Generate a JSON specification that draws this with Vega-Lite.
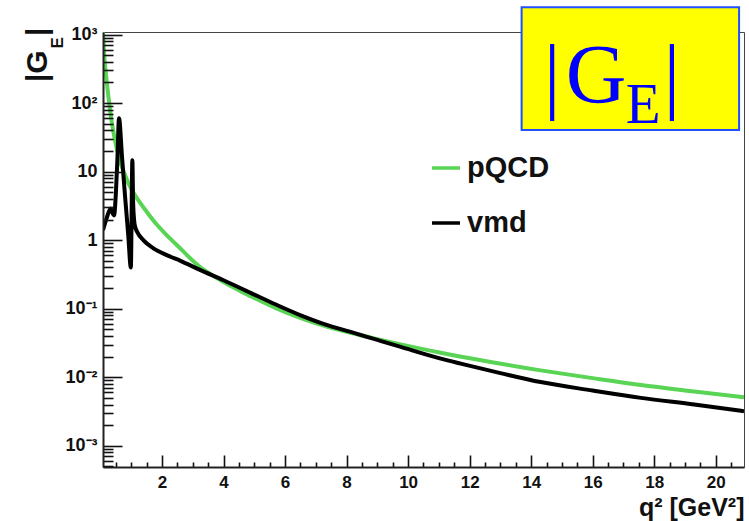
{
  "$schema": "https://vega.github.io/schema/vega-lite/v6.json",
  "width": 641,
  "height": 435,
  "autosize": {"type": "none"},
  "padding": {"left": 103, "top": 32, "right": 5, "bottom": 54},
  "background": "white",
  "config": {"view": {"stroke": "#444", "strokeWidth": 1}, "axis": {"grid": false, "ticks": true}},
  "resolve": {"axis": {"x": "independent", "y": "independent"}},
  "layer": [
    {
      "data": {"values": [
        {"series": "pQCD", "q2": 0.08, "G": 1080},
        {"series": "pQCD", "q2": 0.10, "G": 700},
        {"series": "pQCD", "q2": 0.13, "G": 430},
        {"series": "pQCD", "q2": 0.17, "G": 280},
        {"series": "pQCD", "q2": 0.22, "G": 170},
        {"series": "pQCD", "q2": 0.28, "G": 100},
        {"series": "pQCD", "q2": 0.35, "G": 58},
        {"series": "pQCD", "q2": 0.45, "G": 32},
        {"series": "pQCD", "q2": 0.6, "G": 16},
        {"series": "pQCD", "q2": 0.8, "G": 8.8},
        {"series": "pQCD", "q2": 1.0, "G": 5.6},
        {"series": "pQCD", "q2": 1.2, "G": 4.0},
        {"series": "pQCD", "q2": 1.5, "G": 2.6},
        {"series": "pQCD", "q2": 1.8, "G": 1.75},
        {"series": "pQCD", "q2": 2.1, "G": 1.25},
        {"series": "pQCD", "q2": 2.4, "G": 0.92},
        {"series": "pQCD", "q2": 2.7, "G": 0.68},
        {"series": "pQCD", "q2": 3.0, "G": 0.5},
        {"series": "pQCD", "q2": 3.25, "G": 0.4},
        {"series": "pQCD", "q2": 3.6, "G": 0.315},
        {"series": "pQCD", "q2": 4.0, "G": 0.245},
        {"series": "pQCD", "q2": 4.4, "G": 0.195},
        {"series": "pQCD", "q2": 4.88, "G": 0.152},
        {"series": "pQCD", "q2": 5.7, "G": 0.102},
        {"series": "pQCD", "q2": 6.51, "G": 0.073},
        {"series": "pQCD", "q2": 7.3, "G": 0.056},
        {"series": "pQCD", "q2": 8.13, "G": 0.0445},
        {"series": "pQCD", "q2": 9.0, "G": 0.036},
        {"series": "pQCD", "q2": 9.76, "G": 0.0302},
        {"series": "pQCD", "q2": 11.06, "G": 0.0228},
        {"series": "pQCD", "q2": 12.5, "G": 0.0173},
        {"series": "pQCD", "q2": 14.31, "G": 0.0126},
        {"series": "pQCD", "q2": 16.0, "G": 0.0097},
        {"series": "pQCD", "q2": 17.57, "G": 0.0077},
        {"series": "pQCD", "q2": 19.3, "G": 0.0062},
        {"series": "pQCD", "q2": 20.92, "G": 0.0051},
        {"series": "vmd", "q2": 0.08, "G": 1.4},
        {"series": "vmd", "q2": 0.2, "G": 2.1},
        {"series": "vmd", "q2": 0.33, "G": 2.9},
        {"series": "vmd", "q2": 0.37, "G": 2.6},
        {"series": "vmd", "q2": 0.44, "G": 2.3},
        {"series": "vmd", "q2": 0.5, "G": 5},
        {"series": "vmd", "q2": 0.55, "G": 16},
        {"series": "vmd", "q2": 0.6, "G": 60},
        {"series": "vmd", "q2": 0.7, "G": 16},
        {"series": "vmd", "q2": 0.8, "G": 4.2},
        {"series": "vmd", "q2": 0.9, "G": 1.2},
        {"series": "vmd", "q2": 0.985, "G": 0.4},
        {"series": "vmd", "q2": 1.035, "G": 14.7},
        {"series": "vmd", "q2": 1.06, "G": 3.5},
        {"series": "vmd", "q2": 1.09, "G": 2.0},
        {"series": "vmd", "q2": 1.12, "G": 1.6},
        {"series": "vmd", "q2": 1.2, "G": 1.3},
        {"series": "vmd", "q2": 1.39, "G": 1.0},
        {"series": "vmd", "q2": 1.72, "G": 0.76},
        {"series": "vmd", "q2": 2.17, "G": 0.6},
        {"series": "vmd", "q2": 2.6, "G": 0.5},
        {"series": "vmd", "q2": 3.25, "G": 0.365},
        {"series": "vmd", "q2": 4.0, "G": 0.26},
        {"series": "vmd", "q2": 4.88, "G": 0.17},
        {"series": "vmd", "q2": 5.7, "G": 0.115},
        {"series": "vmd", "q2": 6.51, "G": 0.08},
        {"series": "vmd", "q2": 7.3, "G": 0.059},
        {"series": "vmd", "q2": 8.13, "G": 0.0458},
        {"series": "vmd", "q2": 9.0, "G": 0.035},
        {"series": "vmd", "q2": 9.76, "G": 0.0277},
        {"series": "vmd", "q2": 11.06, "G": 0.0187},
        {"series": "vmd", "q2": 11.71, "G": 0.0158},
        {"series": "vmd", "q2": 13.0, "G": 0.0115},
        {"series": "vmd", "q2": 14.31, "G": 0.0085},
        {"series": "vmd", "q2": 16.0, "G": 0.0064},
        {"series": "vmd", "q2": 17.57, "G": 0.005},
        {"series": "vmd", "q2": 19.3, "G": 0.004},
        {"series": "vmd", "q2": 20.92, "G": 0.0032}
      ]},
      "mark": {"type": "line", "strokeWidth": 4, "clip": true, "interpolate": "monotone"},
      "encoding": {
        "x": {
          "field": "q2", "type": "quantitative",
          "scale": {"domain": [0.08, 20.92], "nice": false, "zero": false},
          "axis": {
            "orient": "bottom", "offset": -12, "zindex": 2,
            "values": [2, 4, 6, 8, 10, 12, 14, 16, 18, 20], "tickCount": 100,
            "format": "d",
            "domain": false, "ticks": true,
            "tickSize": 12, "tickColor": "#111111", "tickWidth": 1.6, "tickOpacity": 1,
            "labelFont": "Liberation Sans", "labelFontWeight": "bold", "labelFontSize": 17, "labelColor": "#111",
            "labelPadding": 7,
            "title": "q² [GeV²]",
            "titleFont": "Liberation Sans", "titleFontWeight": "bold", "titleFontSize": 25, "titleColor": "#111",
            "titleAnchor": "end", "titlePadding": 5
          }
        },
        "y": {
          "field": "G", "type": "quantitative",
          "scale": {"type": "log", "domain": [0.00049, 1090], "nice": false},
          "axis": {
            "orient": "left", "offset": -19, "zindex": 2,
            "values": [0.001, 0.01, 0.1, 1, 10, 100, 1000], "tickCount": 100,
            "labelExpr": "datum.value >= 999 ? '10³' : datum.value >= 99 ? '10²' : datum.value >= 9 ? '10' : datum.value >= 0.9 ? '1' : datum.value >= 0.09 ? '10⁻¹' : datum.value >= 0.009 ? '10⁻²' : '10⁻³'",
            "domain": false, "ticks": true,
            "tickSize": 19, "tickColor": "#111111", "tickWidth": 1.6, "tickOpacity": 1,
            "labelFont": "Liberation Sans", "labelFontWeight": "bold", "labelFontSize": 18, "labelColor": "#111",
            "labelPadding": 6,
            "title": null
          }
        },
        "color": {
          "field": "series", "type": "nominal",
          "scale": {"domain": ["pQCD", "vmd"], "range": ["#59d454", "#000000"]},
          "legend": {
            "orient": "none", "legendX": 327, "legendY": 120, "title": null,
            "symbolType": "stroke", "symbolSize": 784, "symbolStrokeWidth": 3.5,
            "labelFont": "Liberation Sans", "labelFontWeight": "bold", "labelFontSize": 29, "labelColor": "#111",
            "labelOffset": 5, "rowPadding": 24, "padding": 0, "labelLimit": 300
          }
        }
      }
    },
    {
      "data": {"values": [{"x1": 13.69, "x2": 20.76, "y1": 40.5, "y2": 2499}]},
      "mark": {"type": "rect", "fill": "#ffff00", "stroke": "#2050ff", "strokeWidth": 2, "clip": false},
      "encoding": {
        "x": {
          "field": "x1", "type": "quantitative",
          "scale": {"domain": [0.08, 20.92], "nice": false, "zero": false},
          "axis": {
            "orient": "bottom", "offset": -5, "zindex": 2, "tickCount": 100,
            "values": [0.5, 1, 1.5, 2.5, 3, 3.5, 4.5, 5, 5.5, 6.5, 7, 7.5, 8.5, 9, 9.5, 10.5, 11, 11.5, 12.5, 13, 13.5, 14.5, 15, 15.5, 16.5, 17, 17.5, 18.5, 19, 19.5, 20.5],
            "labels": false, "domain": false, "ticks": true, "tickSize": 5, "tickColor": "#111111", "tickWidth": 1.6, "tickOpacity": 1, "title": null
          }
        },
        "x2": {"field": "x2"},
        "y": {
          "field": "y1", "type": "quantitative",
          "scale": {"type": "log", "domain": [0.00049, 1090], "nice": false},
          "axis": {
            "orient": "left", "offset": -10, "zindex": 2, "tickCount": 100,
            "values": [0.0005, 0.0006, 0.0007, 0.0008, 0.0009, 0.002, 0.003, 0.004, 0.005, 0.006, 0.007, 0.008, 0.009, 0.02, 0.03, 0.04, 0.05, 0.06, 0.07, 0.08, 0.09, 0.2, 0.3, 0.4, 0.5, 0.6, 0.7, 0.8, 0.9, 2, 3, 4, 5, 6, 7, 8, 9, 20, 30, 40, 50, 60, 70, 80, 90, 200, 300, 400, 500, 600, 700, 800, 900],
            "labels": false, "domain": false, "ticks": true, "tickSize": 10, "tickColor": "#111111", "tickWidth": 1.6, "tickOpacity": 1, "title": null
          }
        },
        "y2": {"field": "y2"}
      }
    },
    {
      "data": {"values": [
        {"t": "|", "x": 14.68, "y": 100},
        {"t": "G", "x": 16.11, "y": 100},
        {"t": "|", "x": 18.58, "y": 100}
      ]},
      "mark": {"type": "text", "font": "Liberation Serif", "fontSize": 84, "color": "#0000ff", "align": "center", "baseline": "alphabetic", "clip": false},
      "encoding": {
        "x": {"field": "x", "type": "quantitative", "scale": {"domain": [0.08, 20.92], "nice": false, "zero": false}, "axis": null},
        "y": {"field": "y", "type": "quantitative", "scale": {"type": "log", "domain": [0.00049, 1090], "nice": false}, "axis": null},
        "text": {"field": "t"}
      }
    },
    {
      "data": {"values": [{"t": "E", "x": 17.64, "y": 51.2}]},
      "mark": {"type": "text", "font": "Liberation Serif", "fontSize": 57, "color": "#0000ff", "align": "center", "baseline": "alphabetic", "clip": false},
      "encoding": {
        "x": {
          "field": "x", "type": "quantitative", "scale": {"domain": [0.08, 20.92], "nice": false, "zero": false},
          "axis": {"orient": "bottom", "zindex": 2, "domain": true, "domainColor": "#222", "domainWidth": 2, "ticks": false, "labels": false, "title": null}
        },
        "y": {
          "field": "y", "type": "quantitative", "scale": {"type": "log", "domain": [0.00049, 1090], "nice": false},
          "axis": {"orient": "left", "zindex": 2, "domain": true, "domainColor": "#222", "domainWidth": 2, "ticks": false, "labels": false, "title": null}
        },
        "text": {"field": "t"}
      }
    },
    {
      "data": {"values": [
        {"t": "|G", "x": -1.741, "y": 203},
        {"t": "|", "x": -1.741, "y": 953}
      ]},
      "mark": {"type": "text", "font": "Liberation Sans", "fontWeight": "bold", "fontSize": 30, "color": "#111", "angle": 270, "align": "left", "baseline": "alphabetic", "clip": false},
      "encoding": {
        "x": {"field": "x", "type": "quantitative", "scale": {"domain": [0.08, 20.92], "nice": false, "zero": false}, "axis": null},
        "y": {"field": "y", "type": "quantitative", "scale": {"type": "log", "domain": [0.00049, 1090], "nice": false}, "axis": null},
        "text": {"field": "t"}
      }
    },
    {
      "data": {"values": [{"t": "E", "x": -1.22, "y": 626}]},
      "mark": {"type": "text", "font": "Liberation Sans", "fontWeight": "bold", "fontSize": 17, "color": "#111", "angle": 270, "align": "left", "baseline": "alphabetic", "clip": false},
      "encoding": {
        "x": {"field": "x", "type": "quantitative", "scale": {"domain": [0.08, 20.92], "nice": false, "zero": false}, "axis": null},
        "y": {"field": "y", "type": "quantitative", "scale": {"type": "log", "domain": [0.00049, 1090], "nice": false}, "axis": null},
        "text": {"field": "t"}
      }
    }
  ]
}
